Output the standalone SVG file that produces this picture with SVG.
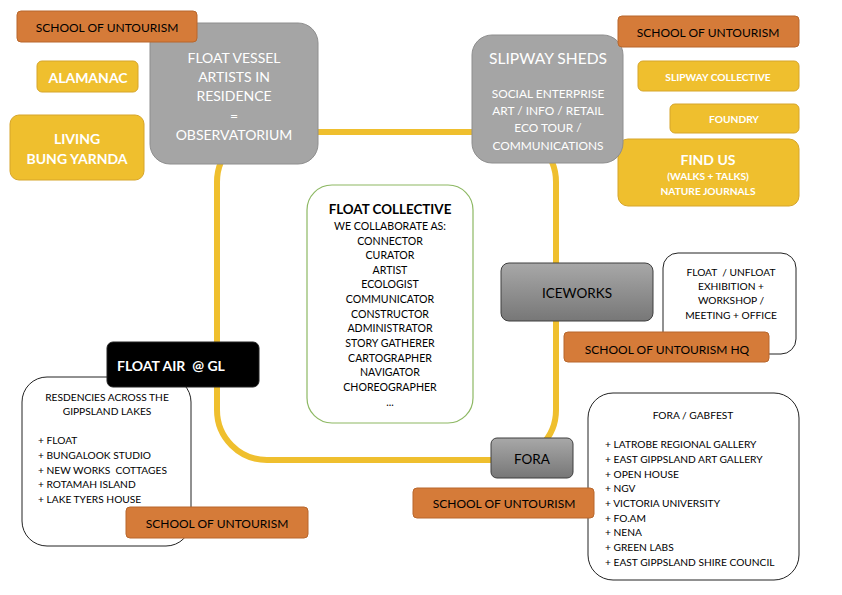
<svg xmlns="http://www.w3.org/2000/svg" width="842" height="595" viewBox="0 0 842 595">
<defs>
<linearGradient id="gr" x1="0" y1="0" x2="0" y2="1">
<stop offset="0" stop-color="#A8A8A8"/>
<stop offset="1" stop-color="#777777"/>
</linearGradient>
<style>
text{font-family:Lato,"Liberation Sans",sans-serif;text-anchor:middle;dominant-baseline:central}
.or{fill:#D57B39;stroke:#B8672C;stroke-width:1}
.ye{fill:#EFBF2E;stroke:#D6A52A;stroke-width:1}
.gy{fill:#A5A5A5;stroke:#8E8E8E;stroke-width:1}
.gd{fill:url(#gr);stroke:#3F3F3F;stroke-width:1}
.wb{fill:#FFFFFF;stroke:#222222;stroke-width:1}
.wg{fill:#FFFFFF;stroke:#8DB863;stroke-width:1.2}
.bk{fill:#000000;stroke:#222;stroke-width:1}
.t13{font-size:12px;fill:#000}
.t11{font-size:10.2px;fill:#000}
.c11{font-size:10.6px;fill:#000}
.w15{font-size:14px;fill:#FFF;font-weight:bold}
.w14{font-size:14px;fill:#FFF}
.w12{font-size:11.9px;fill:#FFF}
.w11b{font-size:10.2px;fill:#FFF;font-weight:bold}
.lst{text-anchor:start}
</style>
</defs>
<rect width="842" height="595" fill="#FFFFFF"/>
<g id="connectors">
<rect x="217" y="132" width="339" height="328" rx="50" fill="none" stroke="#EFBF2E" stroke-width="6"/>
</g>
<g id="find-us"><rect class="ye" x="618" y="139" width="181" height="67" rx="10"/>
<text class="w15" x="708" y="159">FIND US</text>
<text class="w11b" x="708" y="176">(WALKS + TALKS)</text>
<text class="w11b" x="708" y="191">NATURE JOURNALS</text></g>
<g id="float-vessel"><rect class="gy" x="150" y="23" width="168" height="141" rx="20"/>
<text class="w14" x="234" y="57">FLOAT VESSEL</text>
<text class="w14" x="234" y="76">ARTISTS IN</text>
<text class="w14" x="234" y="95">RESIDENCE</text>
<text class="w14" x="234" y="115">=</text>
<text class="w14" x="234" y="134">OBSERVATORIUM</text></g>
<g id="school-tl"><rect class="or" x="17" y="11" width="180" height="31" rx="4"/>
<text class="t13" x="107" y="27">SCHOOL OF UNTOURISM</text></g>
<g id="alamanac"><rect class="ye" x="37" y="61" width="101" height="31" rx="5"/>
<text class="w15" x="88" y="77">ALAMANAC</text></g>
<g id="living"><rect class="ye" x="10" y="115" width="134" height="65" rx="9"/>
<text class="w15" x="77" y="138">LIVING</text>
<text class="w15" x="77" y="158">BUNG YARNDA</text></g>
<g id="slipway-sheds"><rect class="gy" x="472" y="35" width="151" height="128" rx="20"/>
<text x="548" y="58" style="font-size:15.6px;fill:#FFF">SLIPWAY SHEDS</text>
<text class="w12" x="548" y="93">SOCIAL ENTERPRISE</text>
<text class="w12" x="548" y="110">ART / INFO / RETAIL</text>
<text class="w12" x="548" y="127">ECO TOUR /</text>
<text class="w12" x="548" y="145">COMMUNICATIONS</text></g>
<g id="school-tr"><rect class="or" x="618" y="16" width="181" height="31" rx="4"/>
<text class="t13" x="708" y="32">SCHOOL OF UNTOURISM</text></g>
<g id="slipway-collective"><rect class="ye" x="638" y="61" width="161" height="30" rx="5"/>
<text class="w11b" x="718" y="77">SLIPWAY COLLECTIVE</text></g>
<g id="foundry"><rect class="ye" x="670" y="104" width="129" height="29" rx="5"/>
<text class="w11b" x="734" y="119">FOUNDRY</text></g>
<g id="float-collective"><rect class="wg" x="307" y="185" width="166" height="238" rx="25"/>
<text x="390" y="209" style="font-size:13.4px;font-weight:bold;fill:#000">FLOAT COLLECTIVE</text>
<text class="c11" x="390" y="226">WE COLLABORATE AS:</text>
<text class="c11" x="390" y="241">CONNECTOR</text>
<text class="c11" x="390" y="255">CURATOR</text>
<text class="c11" x="390" y="270">ARTIST</text>
<text class="c11" x="390" y="284">ECOLOGIST</text>
<text class="c11" x="390" y="299">COMMUNICATOR</text>
<text class="c11" x="390" y="314">CONSTRUCTOR</text>
<text class="c11" x="390" y="328">ADMINISTRATOR</text>
<text class="c11" x="390" y="343">STORY GATHERER</text>
<text class="c11" x="390" y="358">CARTOGRAPHER</text>
<text class="c11" x="390" y="372">NAVIGATOR</text>
<text class="c11" x="390" y="387">CHOREOGRAPHER</text>
<text class="c11" x="390" y="402">...</text></g>
<g id="float-unfloat"><rect class="wb" x="663" y="253" width="133" height="101" rx="15"/>
<text class="t11" x="731" y="272" xml:space="preserve">FLOAT  / UNFLOAT</text>
<text class="t11" x="731" y="286">EXHIBITION +</text>
<text class="t11" x="731" y="300">WORKSHOP /</text>
<text class="t11" x="731" y="315">MEETING + OFFICE</text></g>
<g id="iceworks"><rect class="gd" x="501" y="263" width="152" height="58" rx="8"/>
<text x="577" y="293" style="font-size:13.5px;fill:#000">ICEWORKS</text></g>
<g id="school-hq"><rect class="or" x="564" y="332" width="205" height="30" rx="4"/>
<text class="t13" x="667" y="349">SCHOOL OF UNTOURISM HQ</text></g>
<g id="residencies"><rect class="wb" x="22" y="377" width="169" height="169" rx="25"/>
<text class="t11" x="107" y="397">RESDENCIES ACROSS THE</text>
<text class="t11" x="107" y="411">GIPPSLAND LAKES</text>
<text class="t11 lst" x="38" y="440">+ FLOAT</text>
<text class="t11 lst" x="38" y="455">+ BUNGALOOK STUDIO</text>
<text class="t11 lst" x="38" y="470" xml:space="preserve">+ NEW WORKS  COTTAGES</text>
<text class="t11 lst" x="38" y="484">+ ROTAMAH ISLAND</text>
<text class="t11 lst" x="38" y="499">+ LAKE TYERS HOUSE</text></g>
<g id="float-air"><rect class="bk" x="107" y="342" width="152" height="45" rx="6"/>
<text class="w15" x="117" y="365" style="text-anchor:start" xml:space="preserve">FLOAT AIR  @ GL</text></g>
<g id="school-bl"><rect class="or" x="126" y="507" width="182" height="31" rx="4"/>
<text class="t13" x="217" y="523">SCHOOL OF UNTOURISM</text></g>
<g id="fora-gabfest"><rect class="wb" x="588" y="393" width="211" height="187" rx="25"/>
<text class="t11" x="693" y="415">FORA / GABFEST</text>
<text class="t11 lst" x="605" y="444">+ LATROBE REGIONAL GALLERY</text>
<text class="t11 lst" x="605" y="459">+ EAST GIPPSLAND ART GALLERY</text>
<text class="t11 lst" x="605" y="474">+ OPEN HOUSE</text>
<text class="t11 lst" x="605" y="488">+ NGV</text>
<text class="t11 lst" x="605" y="503">+ VICTORIA UNIVERSITY</text>
<text class="t11 lst" x="605" y="518">+ FO.AM</text>
<text class="t11 lst" x="605" y="532">+ NENA</text>
<text class="t11 lst" x="605" y="547">+ GREEN LABS</text>
<text class="t11 lst" x="605" y="562">+ EAST GIPPSLAND SHIRE COUNCIL</text></g>
<g id="fora"><rect class="gd" x="491" y="438" width="82" height="40" rx="6"/>
<text x="532" y="459" style="font-size:13.5px;fill:#000">FORA</text></g>
<g id="school-bm"><rect class="or" x="413" y="488" width="181" height="30" rx="4"/>
<text class="t13" x="504" y="503">SCHOOL OF UNTOURISM</text></g>
</svg>
